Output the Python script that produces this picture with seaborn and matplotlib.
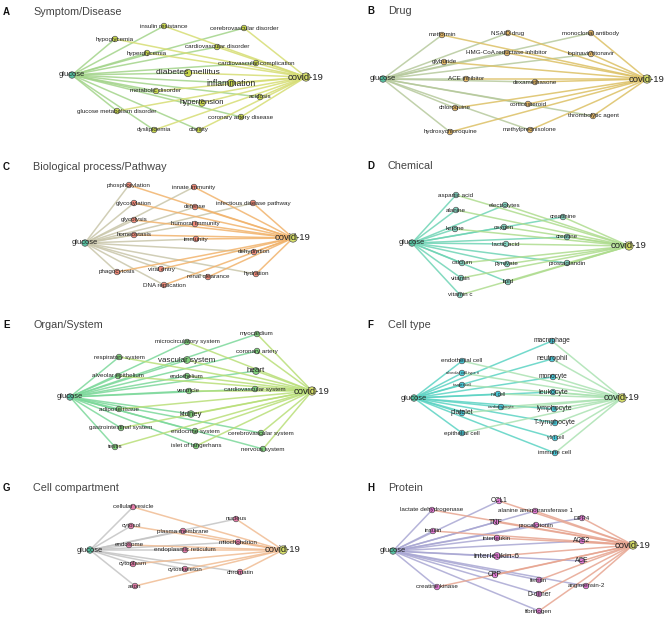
import pandas as pd
import matplotlib.pyplot as plt
import seaborn as sns

sns.set_style("white")
plt.rcParams["font.family"] = ["Liberation Sans", "DejaVu Sans"]

# A - Symptom/Disease
A_nodes = ["glucose", "covid-19", "insulin resistance", "cerebrovascular disorder", "hypoglycemia",
           "cardiovascular disorder", "hyperglycemia", "cardiovascular complication", "diabetes mellitus",
           "inflammation", "metabolic disorder", "acidosis", "hypertension", "glucose metabolism disorder",
           "coronary artery disease", "dyslipidemia", "obesity"]
A_x = [72, 306, 164, 244, 115, 217, 147, 256, 188, 231, 156, 260, 202, 117, 241, 154, 199]
A_y = [75, 77, 26, 28, 39, 47, 53, 63, 73, 83, 91, 97, 103, 111, 117, 130, 130]

# B - Drug
B_nodes = ["glucose", "covid-19", "metformin", "NSAID drug", "monoclonal antibody",
           "HMG-CoA reductase inhibitor", "lopinavir/ritonavir", "glyburide", "ACE inhibitor",
           "dexamethasone", "chloroquine", "corticosteroid", "thrombolytic agent",
           "hydroxychloroquine", "methylprednisolone"]
B_x = [48, 312, 107, 173, 256, 172, 256, 109, 131, 200, 120, 193, 258, 115, 195]
B_y = [79, 79, 35, 33, 33, 53, 54, 62, 79, 82, 108, 104, 116, 132, 130]

# C - Biological process/Pathway
C_nodes = ["glucose", "covid-19", "phosphorylation", "innate immunity", "glycosylation",
           "infectious disease pathway", "defense", "glycolysis", "humoral immunity", "homeostasis",
           "immunity", "dehydration", "phagocytosis", "viral entry", "hydration", "renal clearance",
           "DNA replication"]
C_x = [85, 293, 129, 194, 134, 253, 195, 134, 195, 134, 196, 254, 117, 161, 256, 208, 164]
C_y = [88, 83, 30, 32, 48, 48, 52, 65, 69, 80, 84, 97, 117, 114, 119, 122, 130]

# D - Chemical
D_nodes = ["glucose", "covid-19", "aspartic acid", "electrolytes", "alanine", "creatinine", "ketone",
           "oxygen", "creatine", "lactic acid", "calcium", "pyruvate", "prostaglandin", "vitamin",
           "lipid", "vitamin c"]
D_x = [77, 294, 121, 170, 121, 228, 120, 169, 232, 171, 127, 172, 232, 126, 173, 125]
D_y = [88, 91, 40, 50, 55, 62, 74, 72, 82, 89, 108, 109, 108, 123, 127, 140]

# E - Organ/System
E_nodes = ["glucose", "covid-19", "myocardium", "microcirculatory system", "coronary artery",
           "respiratory system", "vascular system", "heart", "alveolar epithelium", "endothelium",
           "ventricle", "cardiovascular system", "adipose tissue", "kidney", "gastrointestinal system",
           "endocrine system", "cerebrovascular system", "testis", "islet of langerhans", "nervous system"]
E_x = [70, 312, 257, 187, 257, 119, 187, 256, 118, 187, 189, 255, 119, 191, 121, 195, 261, 115, 196, 263]
E_y = [87, 81, 24, 32, 41, 47, 50, 61, 66, 66, 81, 79, 99, 104, 118, 121, 123, 137, 136, 139]

# F - Cell type
F_nodes = ["glucose", "covid-19", "macrophage", "endothelial cell", "neutrophil", "alveolar cell type ii",
           "monocyte", "target cell", "leukocyte", "nk cell", "lymphocyte", "cardiomyocyte", "platelet",
           "T-lymphocyte", "epithelial cell", "γδ t cell", "immune cell"]
F_x = [79, 287, 217, 127, 217, 127, 218, 127, 218, 163, 219, 166, 127, 220, 127, 220, 220]
F_y = [88, 88, 31, 51, 49, 63, 67, 75, 82, 84, 99, 97, 103, 113, 123, 128, 143]

# G - Cell compartment
G_nodes = ["glucose", "covid-19", "cellular vesicle", "nucleus", "cytosol", "plasma membrane",
           "mitochondrion", "endosome", "endoplasmic reticulum", "cytoplasm", "cytoskeleton",
           "chromatin", "axon"]
G_x = [90, 283, 133, 236, 131, 183, 238, 129, 185, 133, 185, 240, 135]
G_y = [85, 85, 42, 54, 61, 66, 77, 80, 85, 99, 104, 107, 121]

# H - Protein
H_nodes = ["glucose", "covid-19", "CCL1", "lactate dehydrogenase", "alanine aminotransferase 1", "DPP4",
           "TNF", "insulin", "procalcitonin", "interleukin", "ACE2", "interleukin-6", "ACE", "CRP",
           "ferritin", "creatine kinase", "angiotensin-2", "D-dimer", "fibrinogen"]
H_x = [58, 298, 164, 97, 200, 247, 161, 98, 201, 162, 247, 162, 247, 160, 204, 102, 251, 204, 204]
H_y = [86, 80, 36, 45, 46, 53, 57, 66, 60, 73, 76, 91, 96, 110, 115, 122, 121, 129, 146]

# label sizes for the bigger / smaller terms
big_labels = {"covid-19": 6.8, "glucose": 5.4, "diabetes mellitus": 6.1, "inflammation": 6.2,
              "hypertension": 5.6, "vascular system": 5.8, "heart": 5.8, "kidney": 5.6,
              "interleukin-6": 6.0, "neutrophil": 5.0, "leukocyte": 5.0, "lymphocyte": 5.0,
              "T-lymphocyte": 5.0, "monocyte": 4.8, "macrophage": 4.8, "platelet": 5.0,
              "TNF": 5.0, "CCL1": 4.8, "ACE2": 4.8, "ACE": 4.8, "CRP": 4.8, "D-dimer": 4.8}
tiny_labels = {"alveolar cell type ii": 2.9, "target cell": 3.1, "cardiomyocyte": 3.1, "nk cell": 3.5,
               "γδ t cell": 3.5}
big_nodes = {"covid-19": 36, "glucose": 22, "diabetes mellitus": 28, "inflammation": 28,
             "hypertension": 22, "vascular system": 24, "heart": 24, "kidney": 22, "interleukin-6": 24}

panels = [
    ("A", "Symptom/Disease", A_nodes, A_x, A_y, (0, 0, 335, 155), (3, 33, 12),
     "#c9d74c", "#a3d48a", "#d6dd73"),
    ("B", "Drug", B_nodes, B_x, B_y, (335, 0, 334, 155), (32, 53, 11),
     "#e6b866", "#b6c99c", "#dcc064"),
    ("C", "Biological process/Pathway", C_nodes, C_x, C_y, (0, 155, 335, 155), (3, 33, 12),
     "#f28a78", "#c9c6aa", "#f1b36c"),
    ("D", "Chemical", D_nodes, D_x, D_y, (335, 155, 334, 155), (32, 53, 11),
     "#82d2bf", "#6fd4b5", "#aedc8e"),
    ("E", "Organ/System", E_nodes, E_x, E_y, (0, 310, 335, 155), (3, 33, 15),
     "#7fd07a", "#7cd89a", "#b9df78"),
    ("F", "Cell type", F_nodes, F_x, F_y, (335, 310, 334, 155), (32, 53, 15),
     "#47c6d6", "#5bd3c3", "#abe2b2"),
    ("G", "Cell compartment", G_nodes, G_x, G_y, (0, 465, 335, 154), (3, 33, 23),
     "#e47aa8", "#c4c4c4", "#f0bc93"),
    ("H", "Protein", H_nodes, H_x, H_y, (335, 465, 334, 154), (32, 53, 23),
     "#e57ad6", "#a9a7d3", "#e7a591"),
]

W, H = 669, 619
fig = plt.figure(figsize=(W / 100, H / 100), dpi=100)

for letter, title, names, xs, ys, box, tpos, node_col, edge_g, edge_c in panels:
    x0, y0, w, h = box
    ax = fig.add_axes([x0 / W, 1 - (y0 + h) / H, w / W, h / H])

    nodes = pd.DataFrame({"name": names, "x": xs, "y": ys})
    nodes["role"] = ["glucose", "covid"] + ["term"] * (len(names) - 2)
    gx, gy = xs[0], ys[0]
    cx, cy = xs[1], ys[1]

    # every term is linked to glucose and to covid-19
    rows = []
    for i, r in nodes.iloc[2:].iterrows():
        rows += [(f"g{i}", "g", gx, gy), (f"g{i}", "g", r.x, r.y),
                 (f"c{i}", "c", r.x, r.y), (f"c{i}", "c", cx, cy)]
    edges = pd.DataFrame(rows, columns=["edge", "kind", "x", "y"])

    sns.lineplot(data=edges, x="x", y="y", units="edge", estimator=None, sort=False,
                 hue="kind", palette={"g": edge_g, "c": edge_c}, lw=1.1, alpha=0.85,
                 legend=False, ax=ax, zorder=1)
    sns.scatterplot(data=nodes, x="x", y="y", hue="role",
                    palette={"glucose": "#55c0a0", "covid": "#d8e06a", "term": node_col},
                    s=[big_nodes.get(n, 16) for n in names], edgecolor="#555555", linewidth=0.5,
                    legend=False, ax=ax, zorder=3)
    for _, r in nodes.iterrows():
        fs = big_labels.get(r["name"], tiny_labels.get(r["name"], 4.5))
        ax.text(r.x, r.y, r["name"], ha="center", va="center", fontsize=fs, color="#222222", zorder=4)

    lx, tx, ty = tpos
    ax.text(lx, ty, letter, fontsize=7, fontweight="bold", color="#111111", va="center")
    ax.text(tx, ty, title, fontsize=7.8, color="#444444", va="center")

    ax.set_xlim(0, w)
    ax.set_ylim(h, 0)
    ax.axis("off")

fig.savefig("out.png", dpi=100)
